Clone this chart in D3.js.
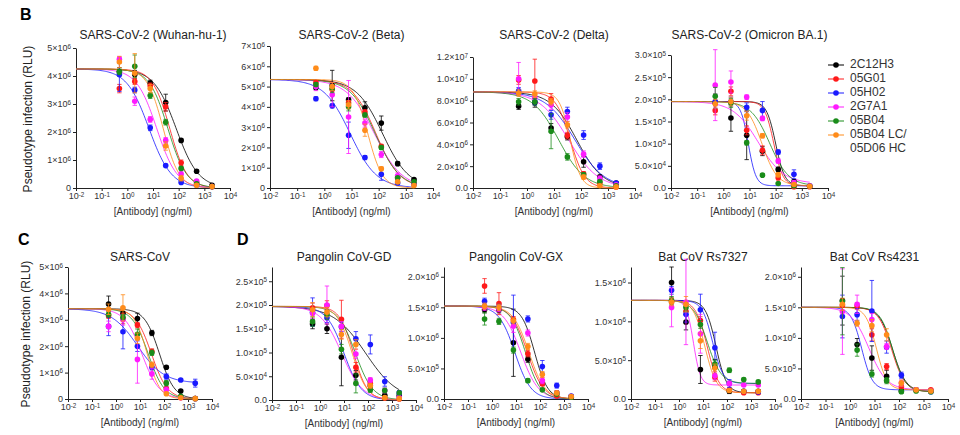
<!DOCTYPE html>
<html>
<head>
<meta charset="utf-8">
<script src="https://cdn.jsdelivr.net/npm/d3@7"></script>
<style>
  body { margin: 0; background: #fff; }
  svg { font-family: "Liberation Sans", Arial, sans-serif; }
</style>
</head>
<body>
<svg id="chart" width="960" height="435"></svg>
<script>
// ---- data ----
const conc = [0.49, 1.95, 7.8, 31.25, 125, 500, 2000];   // ng/ml, 4-fold dilutions
const antibodies = ["2C12H3", "05G01", "05H02", "2G7A1", "05B04", "05B04 LC/05D06 HC"];
const titles = ["SARS-CoV-2 (Wuhan-hu-1)", "SARS-CoV-2 (Beta)", "SARS-CoV-2 (Delta)", "SARS-CoV-2 (Omicron BA.1)",
  "SARS-CoV", "Pangolin CoV-GD", "Pangolin CoV-GX", "Bat CoV Rs7327", "Bat CoV Rs4231"];

const xTicks = [1e-2, 1e-1, 1, 1e1, 1e2, 1e3, 1e4];
const xTickLabels = ["10^-2", "10^-1", "10^0", "10^1", "10^2", "10^3", "10^4"];

// y axis max + ticks, in the panel's unit
const yMax = [5, 7, 12, 3, 5, 2.8, 2.16, 1.7, 2.16];
const yTicks = [
  [0, 1, 2, 3, 4, 5],
  [0, 1, 2, 3, 4, 5, 6, 7],
  [0, 2, 4, 6, 8, 10, 12],
  [0, 0.5, 1, 1.5, 2, 2.5, 3],
  [0, 1, 2, 3, 4, 5],
  [0, 0.5, 1, 1.5, 2, 2.5],
  [0, 0.5, 1, 1.5, 2],
  [0, 0.5, 1, 1.5],
  [0, 0.5, 1, 1.5, 2]
];
const yTickLabels = [
  ["0", "1×10^6", "2×10^6", "3×10^6", "4×10^6", "5×10^6"],
  ["0", "1×10^6", "2×10^6", "3×10^6", "4×10^6", "5×10^6", "6×10^6", "7×10^6"],
  ["0.0", "2.0×10^6", "4.0×10^6", "6.0×10^6", "8.0×10^6", "1.0×10^7", "1.2×10^7"],
  ["0.0", "5.0×10^4", "1.0×10^5", "1.5×10^5", "2.0×10^5", "2.5×10^5", "3.0×10^5"],
  ["0", "1×10^6", "2×10^6", "3×10^6", "4×10^6", "5×10^6"],
  ["0.0", "5.0×10^4", "1.0×10^5", "1.5×10^5", "2.0×10^5", "2.5×10^5"],
  ["0.0", "5.0×10^5", "1.0×10^6", "1.5×10^6", "2.0×10^6"],
  ["0.0", "5.0×10^5", "1.0×10^6", "1.5×10^6"],
  ["0.0", "5.0×10^5", "1.0×10^6", "1.5×10^6", "2.0×10^6"]
];

// fitted curves per antibody: [top, bottom, IC50 (ng/ml), hill]
// means / SEM per antibody at each conc
const wuhanFit = [[4.25,0,80,1.0],[4.25,0,45,1.3],[4.25,0,7,1.0],[4.25,0,14,1.1],[4.25,0,38,1.2],[4.25,0,25,1.4]];
const wuhanMean = [
  [4.15,4.05,3.75,3.05,1.7,0.6,0.1],
  [3.55,3.8,3.65,2.9,0.9,0.2,0.05],
  [4.05,3.5,2.15,0.8,0.2,0.1,0.05],
  [4.6,3.1,2.45,1.7,0.5,0.25,0.05],
  [4.15,4.35,3.3,2.35,0.7,0.15,0.05],
  [4.5,4.1,3.55,1.5,0.35,0.1,0.05]];
const wuhanSem = [
  [0.15,0.15,0.1,0.3,0.05,0.05,0.02],
  [0.15,0.1,0.1,0.15,0.1,0.05,0.02],
  [0.6,0.1,0.1,0.05,0.05,0.02,0.02],
  [0.1,0.15,0.1,0.1,0.1,0.05,0.02],
  [0.1,0.4,0.1,0.1,0.05,0.05,0.02],
  [0.2,0.7,0.15,0.15,0.1,0.05,0.02]];

const betaFit = [[5.35,0,140,0.9],[5.35,0,80,1.0],[5.35,0,9,0.9],[5.35,0,70,0.85],[5.35,0,75,0.95],[5.35,0,40,1.6]];
const betaMean = [
  [4.95,5.05,4.35,3.95,3.2,1.2,0.42],
  [5.2,4.85,4.2,3.75,2.05,0.5,0.22],
  [4.4,4.05,2.6,1.5,0.68,0.25,0.18],
  [5.0,4.6,3.5,3.2,1.65,0.6,0.25],
  [5.1,4.9,4.0,3.6,2.0,0.5,0.3],
  [5.9,5.0,4.1,2.85,0.95,0.3,0.12]];
const betaSem = [
  [0.1,0.75,0.1,0.3,0.35,0.1,0.05],
  [0.1,0.2,0.1,0.1,0.1,0.05,0.05],
  [0.1,0.1,0.65,0.1,0.3,0.05,0.05],
  [0.2,0.6,1.8,0.2,0.15,0.15,0.05],
  [0.1,0.2,0.2,0.1,0.1,0.05,0.05],
  [0.1,0.2,0.2,0.3,0.1,0.05,0.05]];

const deltaFit = [[8.8,0,70,0.9],[8.8,0,40,1.6],[8.8,0,60,0.8],[8.8,0,35,0.8],[8.8,0,15,0.9],[8.8,0,40,2.2]];
const deltaMean = [
  [7.5,7.8,5.5,4.7,2.4,1.0,0.45],
  [9.9,9.8,8.15,4.8,1.3,0.45,0.1],
  [8.9,7.9,6.7,7.0,4.85,2.0,0.45],
  [10.0,8.3,7.6,6.5,3.1,0.9,0.3],
  [7.9,7.9,5.2,2.85,1.2,0.6,0.2],
  [8.7,8.6,7.9,5.8,1.0,0.2,0.1]];
const deltaSem = [
  [0.3,0.4,0.4,0.3,0.5,0.2,0.1],
  [0.4,2.0,0.5,0.3,0.2,0.1,0.05],
  [0.3,0.3,0.4,0.4,0.4,0.3,0.1],
  [1.5,0.4,0.4,0.4,0.3,0.2,0.1],
  [0.3,0.3,1.6,0.3,0.2,0.1,0.05],
  [0.3,0.3,0.3,0.3,0.2,0.1,0.05]];

const omicronFit = [[1.95,0.05,100,2.5],[1.95,0.05,85,2.5],[1.95,0.05,9,3.0],[1.95,0.1,22,0.9],[1.95,0.05,60,1.2],[1.95,0.05,30,1.5]];
const omicronMean = [
  [1.92,1.58,1.19,0.83,0.42,0.14,0.04],
  [1.75,2.18,1.3,0.85,0.23,0.03,0.03],
  [1.95,1.95,1.82,1.75,0.81,0.31,0.05],
  [2.32,2.39,2.05,1.57,0.61,0.12,0.05],
  [2.07,1.92,1.02,0.29,0.1,0.05,0.04],
  [1.9,1.95,1.63,1.18,0.3,0.08,0.04]];
const omicronSem = [
  [0.2,0.3,0.55,0.1,0.05,0.05,0.02],
  [0.1,0.1,0.1,0.1,0.05,0.02,0.02],
  [0.15,0.1,0.1,0.2,0.05,0.1,0.02],
  [0.8,0.25,0.05,0.05,0.05,0.05,0.02],
  [0.2,0.1,0.05,0.03,0.02,0.02,0.02],
  [0.1,0.1,0.1,0.05,0.05,0.02,0.02]];

const sarsFit = [[3.42,0,65,1.4],[3.42,0,30,1.3],[3.42,0.6,8,0.8],[3.42,0,12,1.2],[3.42,0,22,1.3],[3.42,0,20,1.6]];
const sarsMean = [
  [3.6,3.25,3.05,2.5,1.2,0.3,0.02],
  [3.15,3.05,2.8,1.8,0.4,0.05,0.02],
  [2.75,2.55,2.0,1.2,0.85,0.72,0.6],
  [2.75,3.0,1.5,0.95,0.35,0.05,0.02],
  [3.2,3.1,2.45,1.75,0.6,0.1,0.02],
  [3.4,3.45,2.3,1.3,0.2,0.05,0.02]];
const sarsSem = [
  [0.3,0.2,0.2,0.1,0.05,0.05,0.02],
  [0.1,0.2,0.1,0.1,0.05,0.02,0.02],
  [0.35,0.65,0.2,0.1,0.1,0.05,0.15],
  [0.2,0.2,0.9,0.2,0.1,0.02,0.02],
  [0.1,0.1,0.2,0.1,0.1,0.02,0.02],
  [0.2,0.5,0.2,0.1,0.05,0.02,0.02]];

const gdFit = [[1.97,0,80,0.65],[1.97,0,25,1.5],[1.97,0,10,1.2],[1.97,0,8,1.0],[1.97,0,30,1.2],[1.97,0,22,1.4]];
const gdMean = [
  [1.6,1.5,0.9,0.52,0.3,0.1,0.09],
  [1.94,1.99,1.7,0.69,0.35,0.04,0.02],
  [1.85,1.73,1.54,1.29,1.17,0.39,0.15],
  [1.82,2.0,1.55,0.97,0.42,0.2,0.05],
  [1.65,1.8,1.07,0.35,0.21,0.2,0.15],
  [1.9,1.85,1.38,1.17,0.3,0.05,0.03]];
const gdSem = [
  [0.1,0.1,0.6,0.1,0.05,0.05,0.02],
  [0.1,0.1,0.4,0.1,0.05,0.02,0.02],
  [0.3,0.1,0.1,0.15,0.2,0.1,0.05],
  [0.1,0.4,0.1,0.1,0.05,0.05,0.02],
  [0.1,0.1,0.1,0.2,0.05,0.05,0.02],
  [0.15,0.1,0.1,0.1,0.05,0.02,0.02]];

const gxFit = [[1.52,0,60,1.6],[1.52,0,30,1.3],[1.52,0,9,1.3],[1.52,0,16,1.2],[1.52,0,25,1.4],[1.52,0,35,1.3]];
const gxMean = [
  [1.46,1.46,0.92,0.65,0.27,0.1,0.04],
  [1.85,1.56,1.3,0.74,0.25,0.05,0.03],
  [1.6,1.5,1.25,1.31,0.53,0.22,0.05],
  [1.5,1.48,1.19,1.08,0.3,0.1,0.04],
  [1.31,1.27,0.8,0.3,0.15,0.08,0.03],
  [1.52,1.5,1.28,0.86,0.4,0.1,0.04]];
const gxSem = [
  [0.05,0.05,0.55,0.05,0.05,0.03,0.02],
  [0.12,0.18,0.05,0.05,0.03,0.02,0.02],
  [0.05,0.05,0.45,0.05,0.1,0.04,0.02],
  [0.05,0.05,0.1,0.05,0.05,0.02,0.02],
  [0.1,0.05,0.05,0.03,0.02,0.02,0.02],
  [0.05,0.05,0.05,0.05,0.05,0.02,0.02]];

const rs7327Fit = [[1.27,0.08,35,2.0],[1.27,0.08,15,1.8],[1.27,0.2,25,2.0],[1.27,0.18,4,3.0],[1.27,0.2,15,1.5],[1.27,0.08,12,1.8]];
const rs7327Mean = [
  [1.5,0.99,0.38,0.41,0.1,0.1,0.1],
  [1.25,1.13,1.01,0.28,0.12,0.08,0.08],
  [1.4,1.09,1.15,0.66,0.2,0.1,0.09],
  [1.18,1.25,0.84,0.3,0.2,0.18,0.18],
  [1.27,1.18,0.96,0.45,0.37,0.25,0.22],
  [1.25,1.22,0.75,0.4,0.11,0.1,0.1]];
const rs7327Sem = [
  [0.2,0.1,0.18,0.1,0.03,0.02,0.02],
  [0.05,0.05,0.05,0.05,0.02,0.02,0.02],
  [0.05,0.1,0.2,0.2,0.05,0.02,0.02],
  [0.25,0.55,0.25,0.05,0.03,0.02,0.02],
  [0.05,0.05,0.05,0.05,0.03,0.02,0.02],
  [0.05,0.1,0.1,0.05,0.02,0.02,0.02]];

const rs4231Fit = [[1.5,0.12,55,1.6],[1.5,0.12,50,1.6],[1.5,0.15,3,2.0],[1.5,0.15,6,1.2],[1.5,0.12,55,1.7],[1.5,0.15,12,2.0]];
const rs4231Mean = [
  [1.61,0.89,0.67,0.37,0.13,0.15,0.13],
  [1.53,1.52,1.05,0.53,0.2,0.15,0.15],
  [1.35,1.38,1.44,0.85,0.39,0.15,0.12],
  [1.43,1.55,1.3,0.86,0.26,0.15,0.13],
  [1.6,0.8,0.41,0.3,0.12,0.13,0.12],
  [1.55,1.24,1.2,1.05,0.26,0.15,0.13]];
const rs4231Sem = [
  [0.4,0.1,0.2,0.1,0.03,0.02,0.02],
  [0.1,0.05,0.1,0.05,0.03,0.02,0.02],
  [0.35,0.1,0.5,0.1,0.05,0.02,0.02],
  [0.7,0.15,0.1,0.05,0.05,0.02,0.02],
  [0.55,0.1,0.05,0.05,0.02,0.02,0.02],
  [0.1,0.05,0.1,0.1,0.05,0.02,0.02]];

const fits = [wuhanFit, betaFit, deltaFit, omicronFit, sarsFit, gdFit, gxFit, rs7327Fit, rs4231Fit];
const means = [wuhanMean, betaMean, deltaMean, omicronMean, sarsMean, gdMean, gxMean, rs7327Mean, rs4231Mean];
const sems = [wuhanSem, betaSem, deltaSem, omicronSem, sarsSem, gdSem, gxSem, rs7327Sem, rs4231Sem];

// ---- layout / style ----
const colors = ["#000000", "#ff1a1a", "#1a1aff", "#ff1aff", "#1a8c1a", "#ff8c1a"];
const boxes = [
  {x0: 76,  x1: 230, yTop: 48, yBot: 188},
  {x0: 270, x1: 433, yTop: 46, yBot: 188},
  {x0: 473, x1: 635, yTop: 57, yBot: 188},
  {x0: 671, x1: 828, yTop: 55, yBot: 188},
  {x0: 68,  x1: 212, yTop: 267, yBot: 399},
  {x0: 272, x1: 416, yTop: 267, yBot: 400},
  {x0: 444, x1: 588, yTop: 267, yBot: 399},
  {x0: 631, x1: 775, yTop: 267, yBot: 399},
  {x0: 801, x1: 948, yTop: 267, yBot: 399}
];

const svg = d3.select("#chart");

// text like "5×10^6" -> base + superscript
function supText(sel, str) {
  const parts = str.split("^");
  sel.text(null);
  sel.append("tspan").text(parts[0]);
  if (parts.length > 1) {
    sel.append("tspan").attr("dy", "-0.45em").attr("font-size", "0.7em").text(parts[1]);
  }
}

function fourPL(p, c) {
  return p[1] + (p[0] - p[1]) / (1 + Math.pow(c / p[2], p[3]));
}

boxes.forEach(function(b, i) {
  const g = svg.append("g");
  const x = d3.scaleLog().domain([1e-2, 1e4]).range([b.x0, b.x1]);
  const y = d3.scaleLinear().domain([0, yMax[i]]).range([b.yBot, b.yTop]);

  // axes
  const xa = g.append("g").attr("transform", "translate(0," + b.yBot + ")")
    .call(d3.axisBottom(x).tickValues(xTicks).tickSize(3).tickSizeOuter(0).tickPadding(2)
      .tickFormat((d, k) => xTickLabels[k]));
  const ya = g.append("g").attr("transform", "translate(" + b.x0 + ",0)")
    .call(d3.axisLeft(y).tickValues(yTicks[i]).tickSize(3).tickSizeOuter(0).tickPadding(2)
      .tickFormat((d, k) => yTickLabels[i][k]));
  [xa, ya].forEach(a => {
    a.attr("font-family", null).attr("font-size", 9);
    a.selectAll("path, line").attr("stroke", "#222").attr("stroke-width", 1);
    a.selectAll(".tick text").attr("fill", "#333").each(function() {
      const t = d3.select(this);
      supText(t, t.text());
    });
  });

  // title + x label
  g.append("text").attr("x", (b.x0 + b.x1) / 2).attr("y", i < 4 ? 39 : 261)
    .attr("text-anchor", "middle").attr("font-size", 12).attr("fill", "#222").text(titles[i]);
  g.append("text").attr("x", (b.x0 + b.x1) / 2).attr("y", b.yBot + 27)
    .attr("text-anchor", "middle").attr("font-size", 10).attr("fill", "#333").text("[Antibody] (ng/ml)");

  // fitted curves
  const xs = d3.range(0, 121).map(k => Math.pow(10, -2 + k * (Math.log10(2000) + 2) / 120));
  const line = d3.line().x(d => x(d[0])).y(d => y(d[1]));
  fits[i].forEach(function(p, j) {
    g.append("path").attr("d", line(xs.map(c => [c, fourPL(p, c)])))
      .attr("fill", "none").attr("stroke", colors[j]).attr("stroke-width", 1).attr("opacity", 0.8);
  });

  // error bars + points
  means[i].forEach(function(row, j) {
    const s = g.append("g").attr("stroke", colors[j]).attr("fill", colors[j]);
    row.forEach(function(m, k) {
      const e = sems[i][j][k];
      const cx = x(conc[k]);
      const ylo = y(Math.max(0, m - e)), yhi = y(m + e);
      s.append("line").attr("x1", cx).attr("x2", cx).attr("y1", ylo).attr("y2", yhi).attr("stroke-width", 0.8);
      [ylo, yhi].forEach(yy => s.append("line").attr("x1", cx - 2.2).attr("x2", cx + 2.2)
        .attr("y1", yy).attr("y2", yy).attr("stroke-width", 0.8));
      s.append("circle").attr("cx", cx).attr("cy", y(m)).attr("r", 2.8).attr("stroke", "none");
    });
  });
});

// y axis titles
[[29, 119], [27, 334]].forEach(function(p) {
  svg.append("text").attr("transform", "translate(" + p[0] + "," + p[1] + ") rotate(-90)")
    .attr("text-anchor", "middle").attr("dominant-baseline", "middle")
    .attr("font-size", 12).attr("fill", "#222").text("Pseudotype infection (RLU)");
});

// panel letters
[["B", 20, 20], ["C", 18, 245], ["D", 237, 245]].forEach(function(l) {
  svg.append("text").attr("x", l[1]).attr("y", l[2]).attr("font-size", 16)
    .attr("font-weight", "bold").text(l[0]);
});

// legend
const leg = svg.append("g");
antibodies.forEach(function(name, j) {
  const yy = 65 + j * 14;
  leg.append("line").attr("x1", 828).attr("x2", 844).attr("y1", yy).attr("y2", yy)
    .attr("stroke", colors[j]).attr("stroke-width", 1);
  leg.append("circle").attr("cx", 836).attr("cy", yy).attr("r", 2.8).attr("fill", colors[j]);
  const lines = name.split("/");
  lines.forEach(function(t, k) {
    leg.append("text").attr("x", 850).attr("y", yy + k * 14).attr("dominant-baseline", "middle")
      .attr("font-size", 12).attr("fill", "#333").text(k < lines.length - 1 ? t + "/" : t);
  });
});
</script>
</body>
</html>
